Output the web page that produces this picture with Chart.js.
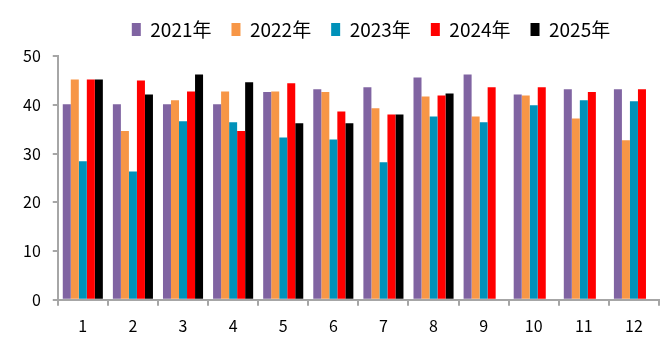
<!DOCTYPE html>
<html>
<head>
<meta charset="utf-8">
<script src="https://cdn.jsdelivr.net/npm/chart.js@4/dist/chart.umd.min.js"></script>
<style>
  html, body { margin: 0; padding: 0; background: #fff; }
  #wrap { width: 669px; height: 353px; }
</style>
</head>
<body>
<div id="wrap"><canvas id="grafica"></canvas></div>
<script>
// datos
const meses = ['1', '2', '3', '4', '5', '6', '7', '8', '9', '10', '11', '12'];
const y2021 = [40.1, 40.1, 40.1, 40.1, 42.6, 43.2, 43.6, 45.6, 46.2, 42.1, 43.2, 43.2];
const y2022 = [45.2, 34.6, 40.9, 42.7, 42.7, 42.6, 39.3, 41.7, 37.6, 41.9, 37.2, 32.7];
const y2023 = [28.4, 26.3, 36.6, 36.4, 33.3, 32.9, 28.2, 37.6, 36.4, 39.9, 40.9, 40.7];
const y2024 = [45.2, 45.0, 42.7, 34.6, 44.4, 38.6, 38.0, 41.9, 43.6, 43.6, 42.6, 43.2];
const y2025 = [45.2, 42.1, 46.2, 44.6, 36.2, 36.2, 38.0, 42.3, null, null, null, null];
const ticksY = [0, 10, 20, 30, 40, 50];

const fuente = "'Noto Sans CJK SC', 'Noto Sans', sans-serif";
const gris = '#a6a6a6';

function serie(nombre, datos, color) {
    return {
        label: nombre,
        data: datos,
        backgroundColor: color,
        borderWidth: 0,
        categoryPercentage: 0.8,
        barPercentage: 1.0
    };
}

// mover la leyenda: mas espacio debajo y un poco a la derecha
const ajusteLeyenda = {
    id: 'ajusteLeyenda',
    beforeInit(chart) {
        const fitOriginal = chart.legend.fit;
        chart.legend.fit = function () {
            fitOriginal.bind(chart.legend)();
            this.height += 7;
        };
    },
    afterLayout(chart) {
        chart.legend.left += 36;
        chart.legend.right += 36;
    }
};

new Chart(document.getElementById('grafica').getContext('2d'), {
    type: 'bar',
    data: {
        labels: meses,
        datasets: [
            serie('2021年', y2021, '#8064a2'),
            serie('2022年', y2022, '#f79646'),
            serie('2023年', y2023, '#0091b9'),
            serie('2024年', y2024, '#ff0000'),
            serie('2025年', y2025, '#000000')
        ]
    },
    options: {
        responsive: true,
        maintainAspectRatio: false,
        animation: false,
        layout: { padding: { top: 0, right: 10, bottom: 6, left: 11 } },
        plugins: {
            legend: {
                position: 'top',
                labels: {
                    font: { family: fuente, size: 19 },
                    color: '#000',
                    boxWidth: 9,
                    boxHeight: 13,
                    padding: 20
                }
            },
            tooltip: { enabled: false }
        },
        scales: {
            x: {
                grid: {
                    display: true,
                    offset: true,
                    drawOnChartArea: false,
                    color: gris,
                    tickLength: 6,
                    lineWidth: 2
                },
                border: { color: gris, width: 2 },
                ticks: {
                    font: { family: fuente, size: 16 },
                    color: '#000',
                    padding: 11
                }
            },
            y: {
                min: 0,
                max: 50,
                afterBuildTicks: axis => {
                    axis.ticks = ticksY.map(v => ({ value: v }));
                },
                grid: {
                    display: true,
                    drawOnChartArea: false,
                    color: gris,
                    tickLength: 5,
                    lineWidth: 2
                },
                border: { color: gris, width: 2 },
                ticks: {
                    font: { family: fuente, size: 16 },
                    color: '#000',
                    padding: 12
                }
            }
        }
    },
    plugins: [ajusteLeyenda]
});
</script>
</body>
</html>
